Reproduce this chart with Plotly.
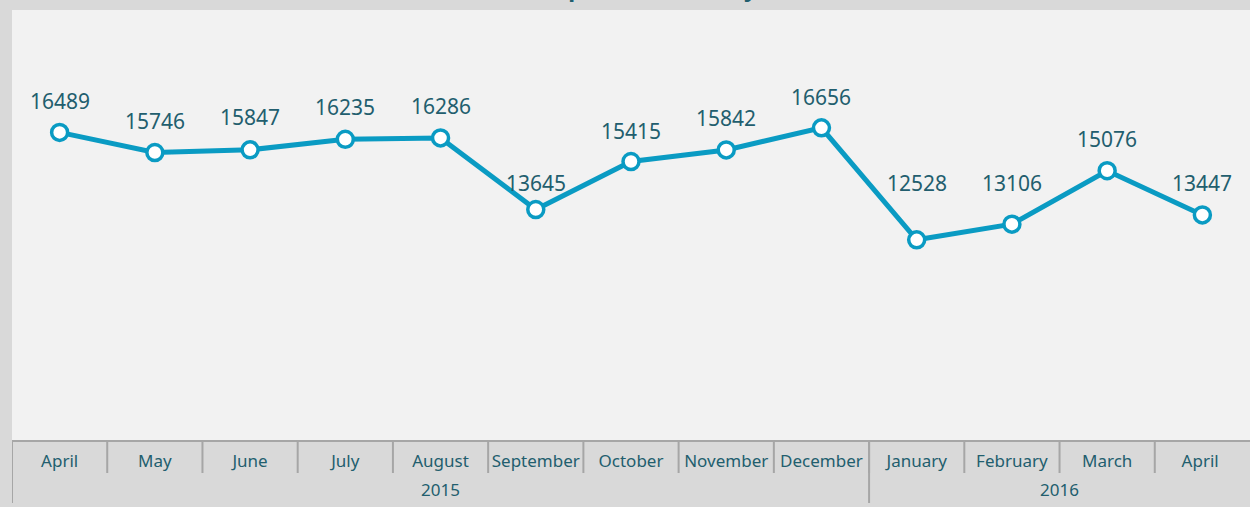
import plotly.graph_objects as go

years = ["2015", "2016"]
year_sizes = [9, 4]
months = ["April", "May", "June", "July", "August", "September", "October",
          "November", "December", "January", "February", "March", "April "]
values = [16489, 15746, 15847, 16235, 16286, 13645, 15415, 15842, 16656,
          12528, 13106, 15076, 13447]
title_text = "Total Shipments Monthly (2015 - 2016)"

# vertical offset (px) of each data label above its point
label_shift = [31, 32, 33, 32, 32, 27, 31, 32, 31, 57, 41, 32, 32]

LINE = "#0a9bc3"
TXT = "#225e6e"
GRID = "#a6a6a6"
FONT = "Noto Sans"
PLOT_H = 430  # plot-area height in px
TICK_PX = 33
DIV_PX = 63

fig = go.Figure()
fig.add_trace(go.Scatter(
    x=months, y=values,
    mode="lines+markers",
    line=dict(color=LINE, width=5),
    marker=dict(size=16, color="white", line=dict(color=LINE, width=3.5)),
    hoverinfo="skip", showlegend=False,
))
for i, v in enumerate(values):
    fig.add_annotation(x=i, y=v, xref="x", yref="y", text=str(v),
                       showarrow=False, yshift=label_shift[i],
                       font=dict(family=FONT, size=21, color=TXT))

# month separators (category boundaries)
for k in range(len(months) - 1):
    fig.add_shape(type="line", xref="x", yref="paper",
                  x0=k + 0.5, x1=k + 0.5, y0=0, y1=-TICK_PX / PLOT_H,
                  line=dict(color=GRID, width=2))

# year groups: dividers + labels
start = 0
for yr, n in zip(years, year_sizes):
    fig.add_shape(type="line", xref="x", yref="paper",
                  x0=start - 0.5, x1=start - 0.5, y0=0, y1=-DIV_PX / PLOT_H,
                  line=dict(color=GRID, width=2))
    fig.add_annotation(x=start + (n - 1) / 2, y=0, xref="x", yref="paper",
                       yanchor="middle", yshift=-49, text=yr, showarrow=False,
                       font=dict(family=FONT, size=17, color=TXT))
    start += n

fig.add_annotation(x=0.545, y=1, xref="paper", yref="paper",
                   xanchor="center", yanchor="bottom", yshift=5,
                   text="<b>" + title_text + "</b>", showarrow=False,
                   font=dict(family=FONT, size=23, color=TXT))

fig.update_layout(
    width=1250, height=507,
    paper_bgcolor="#d9d9d9", plot_bgcolor="#f2f2f2",
    margin=dict(l=12, r=0, t=10, b=67, autoexpand=False),
    xaxis=dict(
        type="category", automargin=False,
        showgrid=False, zeroline=False, tickangle=0,
        showline=True, linecolor=GRID, linewidth=2,
        ticks="", ticklabelstandoff=5,
        tickfont=dict(family=FONT, size=17, color=TXT),
        range=[-0.5, 12.5],
    ),
    yaxis=dict(range=[5150, 21000], showgrid=False, zeroline=False,
               showticklabels=False, showline=False, automargin=False),
)
fig.write_html("out.html", config={"displayModeBar": False},
               post_script="document.body.style.margin='0';")
